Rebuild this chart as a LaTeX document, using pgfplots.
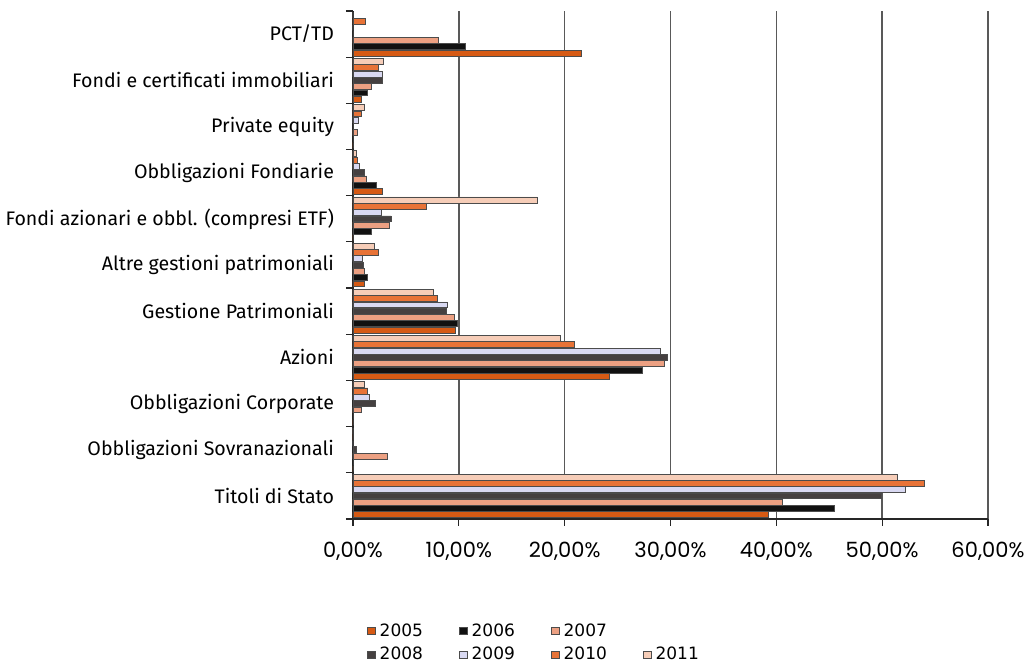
\documentclass[border=0pt]{standalone}
\usepackage{fontspec}
\setmainfont{Fira Sans}
\newfontfamily\tickfont{Poppins}
\newfontfamily\legfont{DejaVu Sans}
\usepackage{pgfplots}
\usepackage{pgfplotstable}
\pgfplotsset{compat=1.18}
\definecolor{cA}{HTML}{D65A14}
\definecolor{cB}{HTML}{111111}
\definecolor{cC}{HTML}{ECA082}
\definecolor{cD}{HTML}{454040}
\definecolor{cE}{HTML}{D9D9F2}
\definecolor{cF}{HTML}{E87337}
\definecolor{cG}{HTML}{F6CDB8}
\pgfplotstableread{
y  a2005 a2006 a2007 a2008 a2009 a2010 a2011
0  39.2  45.5  40.6  49.9  52.2  54.0  51.4
1  0     0     3.2   0.3   0     0     0
2  0     0     0.8   2.1   1.5   1.4   1.1
3  24.2  27.3  29.4  29.7  29.0  20.9  19.6
4  9.7   9.9   9.6   8.8   8.9   8.0   7.6
5  1.1   1.4   1.1   1.0   0.9   2.4   2.0
6  0     1.7   3.4   3.6   2.7   6.9   17.4
7  2.8   2.2   1.3   1.1   0.6   0.4   0.3
8  0     0     0.4   0     0.5   0.8   1.1
9  0.8   1.4   1.7   2.8   2.8   2.4   2.9
10 21.6  10.6  8.1   0     0     1.2   0
}\data
\pgfplotsset{
  mybar/.style={fill=#1, draw=black!70, line width=0.35pt,
    legend image code/.code={\draw[##1] (0pt,-1.7pt) rectangle (4pt,1.7pt);}},
}
\begin{document}
\begin{tikzpicture}
\path[use as bounding box] (0,0) rectangle (512.5pt,331.5pt);
\begin{axis}[
  at={(176.5pt,72pt)}, anchor=south west,
  scale only axis, width=317.5pt, height=254pt,
  xbar=0.2pt, bar width=2.95pt,
  xmin=0, xmax=60, ymin=-0.5, ymax=10.5,
  axis lines=left, axis line style={-, line width=0.6pt, black!85},
  xtick={0,10,...,60},
  xticklabels={{0,00\%},{10,00\%},{20,00\%},{30,00\%},{40,00\%},{50,00\%},{60,00\%}},
  xticklabel style={font=\tickfont\fontsize{10.5}{12}\selectfont, yshift=-4.5pt},
  tick align=outside,
  major tick length=3.5pt,
  tick style={line width=0.6pt, black!85},
  xmajorgrids, grid style={line width=0.7pt, black!65},
  ytick={-0.5,0.5,...,10.5}, yticklabels={},
  extra y ticks={0,1,2,3,4,5,6,7,8,9,10},
  extra y tick labels={Titoli di Stato,Obbligazioni Sovranazionali,Obbligazioni Corporate,Azioni,Gestione Patrimoniali,Altre gestioni patrimoniali,Fondi azionari e obbl. (compresi ETF),Obbligazioni Fondiarie,Private equity,Fondi e certificati immobiliari,PCT/TD},
  extra y tick style={major tick length=0pt},
  yticklabel style={font=\fontsize{9.8}{11}\selectfont, xshift=-6pt},
  legend columns=4,
  legend style={draw=none, at={(0.012,-0.189)}, anchor=north west,
    font=\legfont\fontsize{8.5}{10}\selectfont,
    /tikz/every even column/.append style={column sep=16pt},
    row sep=0pt},
]
\addplot[mybar=cA] table[x=a2005,y=y]{\data}; \addlegendentry{2005}
\addplot[mybar=cB] table[x=a2006,y=y]{\data}; \addlegendentry{2006}
\addplot[mybar=cC] table[x=a2007,y=y]{\data}; \addlegendentry{2007}
\addlegendimage{empty legend}\addlegendentry{}
\addplot[mybar=cD] table[x=a2008,y=y]{\data}; \addlegendentry{2008}
\addplot[mybar=cE] table[x=a2009,y=y]{\data}; \addlegendentry{2009}
\addplot[mybar=cF] table[x=a2010,y=y]{\data}; \addlegendentry{2010}
\addplot[mybar=cG] table[x=a2011,y=y]{\data}; \addlegendentry{2011}
\end{axis}
\end{tikzpicture}
\end{document}
